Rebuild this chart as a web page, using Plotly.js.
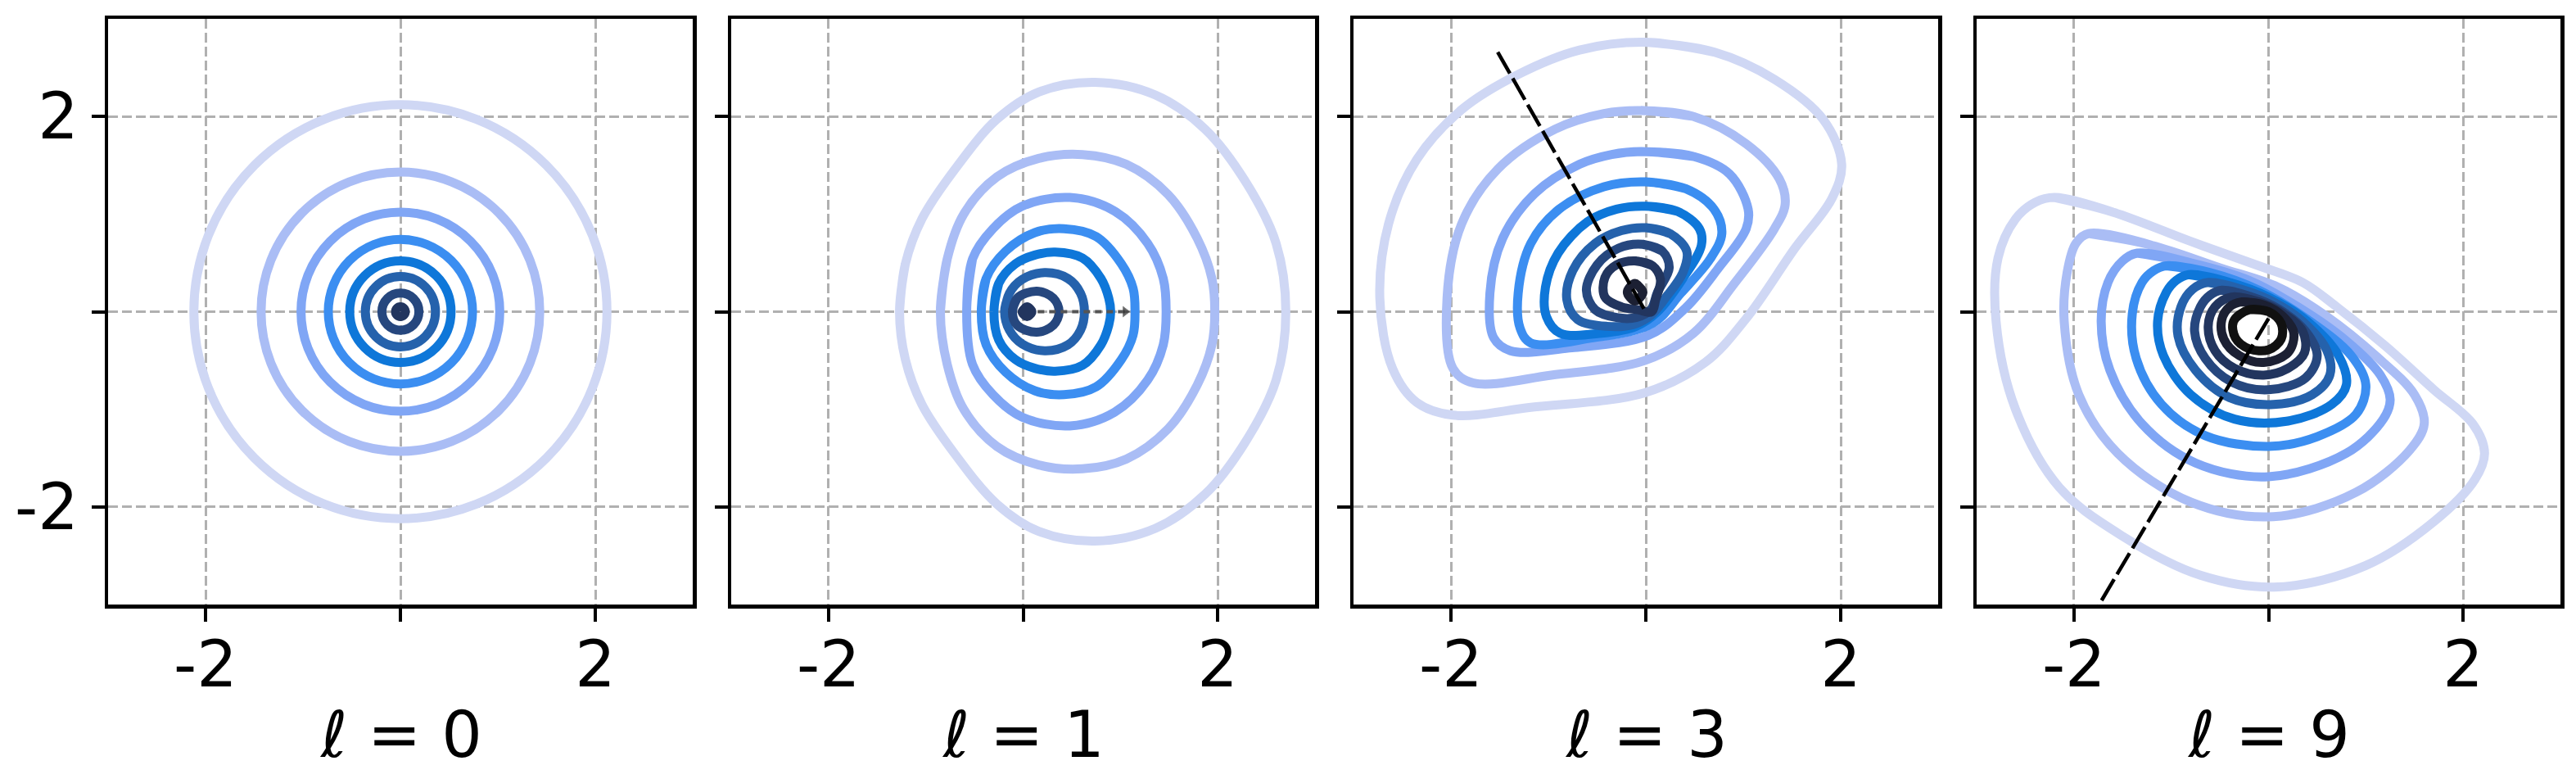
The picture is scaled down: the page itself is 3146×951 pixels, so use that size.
<!DOCTYPE html>
<html>
<head>
<meta charset="utf-8">
<script src="https://cdn.plot.ly/plotly-3.0.1.min.js"></script>
<style>body{margin:0;background:#fff;}</style>
</head>
<body>
<div id="chart" style="width:3146px;height:951px;"></div>
<script>
// contour colours, outermost level first
var levelColors = ['#cfd7f4','#aabdf5','#80a6f5','#3b8ef1','#0e77d9','#2562ac','#26477e','#22355e','#1c2033','#111111'];
var panelTitles = ['<i>ℓ</i> = 0', '<i>ℓ</i> = 1', '<i>ℓ</i> = 3', '<i>ℓ</i> = 9'];
var tickVals = [-2, 0, 2];
var tickText = ['-2', '', '2'];

// l = 0 : circles, radius per level
var l0_radius = [2.12, 1.43, 1.02, 0.74, 0.52, 0.36, 0.19, 0.05];

// l = 1 : upper halves (symmetric about y = 0), left to right
var l1_x = [
  [-1.27,-1.21,-1.04,-0.70,-0.27,0.16,0.74,1.36,1.87,2.30,2.60,2.70],
  [-0.85,-0.78,-0.61,-0.27,0.16,0.61,1.06,1.49,1.79,1.94,1.97],
  [-0.58,-0.52,-0.31,-0.01,0.48,0.94,1.28,1.44,1.47],
  [-0.43,-0.38,-0.18,0.12,0.42,0.75,1.01,1.13,1.15],
  [-0.30,-0.25,-0.08,0.12,0.33,0.61,0.80,0.88,0.90],
  [-0.19,-0.14,-0.01,0.22,0.46,0.59,0.63],
  [-0.11,-0.06,0.14,0.31,0.37],
  [-0.01,0.04,0.09]
];
var l1_y = [
  [0,0.49,0.95,1.46,1.97,2.25,2.35,2.22,1.87,1.31,0.70,0],
  [0,0.54,1.00,1.38,1.57,1.61,1.51,1.20,0.75,0.34,0],
  [0,0.54,0.85,1.08,1.17,1.03,0.70,0.34,0],
  [0,0.34,0.62,0.81,0.85,0.77,0.49,0.24,0],
  [0,0.29,0.49,0.58,0.61,0.55,0.34,0.14,0],
  [0,0.19,0.33,0.40,0.34,0.19,0],
  [0,0.14,0.21,0.14,0],
  [0,0.05,0]
];
var l1_arrow_x = [0.15, 1.05];
var l1_arrow_y = [0, 0];

// l = 3 : closed loops
var l3_x = [
  [-0.01,0.70,1.32,1.82,2.01,1.91,1.53,1.03,0.61,-0.01,-1.18,-1.98,-2.35,-2.60,-2.73,-2.64,-2.35,-1.89,-1.31,-0.68],
  [-0.05,0.49,1.03,1.37,1.43,1.32,0.91,0.49,-0.01,-0.97,-1.77,-1.98,-2.04,-1.89,-1.52,-0.93,-0.43],
  [-0.05,0.49,0.86,1.05,1.03,0.74,0.41,0.03,-0.76,-1.39,-1.56,-1.60,-1.47,-1.14,-0.68,-0.35],
  [-0.01,0.41,0.70,0.78,0.66,0.36,0.07,-0.56,-1.18,-1.29,-1.31,-1.18,-0.89,-0.43],
  [-0.01,0.32,0.55,0.57,0.38,0.12,-0.10,-0.45,-0.88,-1.02,-1.03,-0.90,-0.60,-0.30],
  [0.00,0.25,0.42,0.38,0.20,0.06,-0.12,-0.40,-0.70,-0.81,-0.75,-0.52,-0.25],
  [-0.03,0.17,0.24,0.12,0.05,-0.10,-0.30,-0.52,-0.61,-0.50,-0.28],
  [-0.11,0.07,0.15,0.10,0.06,-0.08,-0.25,-0.42,-0.42,-0.30],
  [-0.11,-0.03,-0.11,-0.19]
];
var l3_y = [
  [2.76,2.66,2.38,1.97,1.51,1.16,0.65,-0.07,-0.52,-0.83,-0.98,-1.06,-0.93,-0.58,0.14,0.90,1.56,2.07,2.43,2.68],
  [2.06,2.00,1.72,1.36,1.10,0.85,0.29,-0.22,-0.50,-0.65,-0.73,-0.58,0.14,0.90,1.46,1.87,2.03],
  [1.64,1.59,1.41,1.05,0.85,0.44,0.04,-0.24,-0.37,-0.40,-0.27,0.19,0.75,1.21,1.51,1.61],
  [1.33,1.26,1.05,0.80,0.54,0.19,-0.12,-0.27,-0.32,-0.17,0.19,0.70,1.05,1.28],
  [1.08,1.03,0.85,0.68,0.34,0.00,-0.15,-0.22,-0.22,-0.05,0.25,0.60,0.92,1.05],
  [0.86,0.80,0.62,0.40,0.14,-0.03,-0.13,-0.15,-0.08,0.12,0.42,0.70,0.83],
  [0.69,0.62,0.45,0.20,0.02,-0.06,-0.06,0.02,0.22,0.48,0.65],
  [0.52,0.47,0.33,0.12,0.00,0.02,0.05,0.15,0.35,0.48],
  [0.29,0.20,0.11,0.20]
];
var l3_line_x = [-1.52, -0.02];
var l3_line_y = [2.66, 0.03];

// l = 9 : closed loops
var l9_x = [
  [-2.20,-1.60,-0.80,-0.10,0.35,0.70,1.20,1.70,2.10,2.22,2.12,1.70,1.00,0.10,-0.70,-1.50,-2.15,-2.60,-2.80,-2.78,-2.60,-2.40],
  [-1.85,-1.20,-0.50,0.10,0.60,1.10,1.50,1.60,1.45,0.90,0.05,-0.80,-1.55,-1.95,-2.10,-2.07,-1.98],
  [-1.35,-0.80,-0.20,0.30,0.80,1.15,1.25,1.18,0.80,0.00,-0.75,-1.30,-1.63,-1.72,-1.65,-1.50],
  [-1.05,-0.60,-0.10,0.40,0.85,1.00,0.90,0.50,0.00,-0.65,-1.10,-1.36,-1.40,-1.30,-1.18],
  [-0.82,-0.40,0.00,0.40,0.72,0.80,0.65,0.20,-0.35,-0.80,-1.08,-1.14,-1.05,-0.95],
  [-0.62,-0.25,0.05,0.35,0.60,0.63,0.45,0.05,-0.40,-0.75,-0.93,-0.90,-0.78],
  [-0.48,-0.20,0.10,0.38,0.50,0.38,0.00,-0.38,-0.65,-0.76,-0.70,-0.60],
  [-0.38,-0.10,0.15,0.35,0.37,0.20,-0.05,-0.35,-0.55,-0.62,-0.55],
  [-0.28,-0.05,0.15,0.26,0.20,-0.05,-0.30,-0.46,-0.48,-0.40],
  [-0.20,0.00,0.13,0.13,0.00,-0.20,-0.34,-0.36]
];
var l9_y = [
  [1.17,1.02,0.72,0.47,0.30,0.05,-0.35,-0.80,-1.15,-1.45,-1.72,-2.15,-2.60,-2.82,-2.70,-2.30,-1.80,-1.00,-0.10,0.55,0.95,1.12],
  [0.80,0.68,0.45,0.25,-0.05,-0.45,-0.85,-1.15,-1.42,-1.85,-2.10,-1.95,-1.45,-0.85,-0.10,0.40,0.70],
  [0.60,0.50,0.32,0.05,-0.30,-0.65,-0.90,-1.10,-1.45,-1.69,-1.55,-1.15,-0.60,-0.10,0.30,0.52],
  [0.47,0.40,0.22,-0.08,-0.45,-0.75,-1.05,-1.28,-1.38,-1.27,-0.95,-0.48,-0.02,0.30,0.42],
  [0.38,0.30,0.15,-0.10,-0.45,-0.75,-0.95,-1.12,-1.10,-0.85,-0.45,-0.10,0.20,0.32],
  [0.30,0.22,0.10,-0.10,-0.40,-0.65,-0.85,-0.95,-0.88,-0.60,-0.25,0.05,0.23],
  [0.22,0.16,0.03,-0.20,-0.45,-0.68,-0.80,-0.72,-0.48,-0.20,0.05,0.17],
  [0.15,0.10,-0.02,-0.20,-0.42,-0.58,-0.65,-0.58,-0.40,-0.15,0.05],
  [0.10,0.07,-0.05,-0.22,-0.42,-0.52,-0.45,-0.28,-0.08,0.05],
  [0.02,0.00,-0.12,-0.28,-0.39,-0.38,-0.27,-0.10]
];
var l9_line_x = [0.00, -1.80];
var l9_line_y = [-0.07, -3.10];

// panel boxes in pixels (left, right), plot area starts at x = 132
var W = 3146, H = 951;
var mL = 132, mR = 19, mT = 23, mB = 213;
var plotW = W - mL - mR, plotH = H - mT - mB;
var boxes = [[0, 714], [761, 1474], [1521, 2235], [2282, 2995]];

var traces = [];
var shapes = [];

// repeat first two points so the spline closes without a kink
function closeLoop(xs, ys) {
  return [xs.concat([xs[0], xs[1]]), ys.concat([ys[0], ys[1]])];
}

function mirrorHalf(xs, ys) {
  var x = xs.slice(), y = ys.slice();
  for (var i = xs.length - 2; i > 0; i--) {
    x.push(xs[i]);
    y.push(-ys[i]);
  }
  return [x, y];
}

function addRing(x, y, level, n) {
  var c = closeLoop(x, y);
  traces.push({
    x: c[0], y: c[1], xaxis: 'x' + n, yaxis: 'y' + n,
    type: 'scatter', mode: 'lines', hoverinfo: 'skip', showlegend: false,
    line: {color: levelColors[level], width: 11, shape: 'spline', smoothing: 1}
  });
}

function addDashed(x, y, n) {
  traces.push({
    x: x, y: y, xaxis: 'x' + n, yaxis: 'y' + n,
    type: 'scatter', mode: 'lines', hoverinfo: 'skip', showlegend: false,
    line: {color: '#000', width: 4.5, dash: '30px,7px'}
  });
}

// l = 0
for (var i = 0; i < l0_radius.length; i++) {
  var r = l0_radius[i];
  shapes.push({
    type: 'circle', xref: 'x', yref: 'y', x0: -r, x1: r, y0: -r, y1: r,
    line: {color: levelColors[i], width: 11}
  });
}
// dummy trace so the first axes pair exists
traces.push({x: [0], y: [0], xaxis: 'x', yaxis: 'y', mode: 'markers', marker: {size: 1, opacity: 0}, hoverinfo: 'skip', showlegend: false});

// l = 1
for (var i = 0; i < l1_x.length; i++) {
  var m = mirrorHalf(l1_x[i], l1_y[i]);
  addRing(m[0], m[1], i, 2);
}
traces.push({
  x: l1_arrow_x, y: l1_arrow_y, xaxis: 'x2', yaxis: 'y2',
  type: 'scatter', mode: 'lines+markers', hoverinfo: 'skip', showlegend: false,
  line: {color: '#555', width: 4, dash: '8px,6px'},
  marker: {symbol: 'triangle-right', size: [0, 11], color: '#222'}
});

// l = 3
for (var i = 0; i < l3_x.length; i++) addRing(l3_x[i], l3_y[i], i, 3);
addDashed(l3_line_x, l3_line_y, 3);

// l = 9
for (var i = 0; i < l9_x.length; i++) addRing(l9_x[i], l9_y[i], i, 4);
addDashed(l9_line_x, l9_line_y, 4);

function axis(dom, anchor, showLabels, standoff) {
  return {
    domain: dom, anchor: anchor, range: [-3, 3],
    tickmode: 'array', tickvals: tickVals, ticktext: tickText,
    showticklabels: showLabels, ticks: 'outside', ticklen: 16, tickwidth: 4, tickcolor: '#000',
    ticklabelstandoff: standoff,
    tickfont: {family: 'DejaVu Sans', size: 78, color: '#000'},
    showline: true, mirror: true, linecolor: '#000', linewidth: 4.5,
    showgrid: true, gridcolor: '#b0b0b0', gridwidth: 3, griddash: '12px,5px',
    zeroline: false, fixedrange: true
  };
}

var layout = {
  width: W, height: H,
  margin: {l: mL, r: mR, t: mT, b: mB, pad: 0},
  paper_bgcolor: '#fff', plot_bgcolor: '#fff',
  font: {family: 'DejaVu Sans', color: '#000'},
  showlegend: false,
  shapes: shapes,
  annotations: []
};

for (var k = 0; k < 4; k++) {
  var n = k === 0 ? '' : String(k + 1);
  var dom = [boxes[k][0] / plotW, boxes[k][1] / plotW];
  layout['xaxis' + n] = axis(dom, 'y' + n, true, -14);
  layout['yaxis' + n] = axis([0, 1], 'x' + n, k === 0, 0);
  layout.annotations.push({
    text: panelTitles[k], xref: 'paper', yref: 'paper',
    x: (dom[0] + dom[1]) / 2, y: (738 - 897) / plotH,
    xanchor: 'center', yanchor: 'middle', showarrow: false,
    font: {family: 'DejaVu Sans', size: 78, color: '#000'}
  });
}

Plotly.newPlot('chart', traces, layout, {displayModeBar: false, staticPlot: true});
</script>
</body>
</html>
